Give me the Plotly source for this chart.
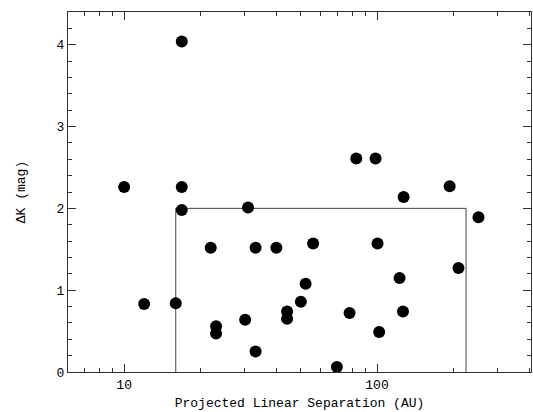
import plotly.graph_objects as go

# Projected linear separation (AU) and delta K (mag)
sep_au = [16.9, 10.0, 16.9, 82.8, 98.7, 127.4, 193.8, 252.0,
          16.9, 30.9, 22.0, 33.1, 40.0, 55.9, 100.5, 210.0,
          122.8, 52.2, 50.0, 12.0, 16.0, 44.1, 44.1, 77.9,
          126.7, 30.1, 23.1, 23.1, 102.0, 33.1, 69.4]
delta_k = [4.04, 2.26, 2.26, 2.61, 2.61, 2.14, 2.27, 1.89,
           1.98, 2.01, 1.52, 1.52, 1.52, 1.57, 1.57, 1.27,
           1.15, 1.08, 0.86, 0.83, 0.84, 0.74, 0.65, 0.72,
           0.74, 0.64, 0.56, 0.47, 0.49, 0.25, 0.06]

# Selection box bounds
box_x = [16.0, 16.0, 225.0, 225.0]
box_y = [0.0, 2.0, 2.0, 0.0]

x_major = [10, 100]
x_minor = [7, 8, 9, 20, 30, 40, 50, 60, 70, 80, 90, 200, 300, 400]

font_main = "Liberation Mono"

fig = go.Figure()
fig.add_trace(go.Scatter(x=box_x, y=box_y, mode="lines",
                         line=dict(color="#444", width=1), hoverinfo="skip",
                         showlegend=False))
fig.add_trace(go.Scatter(x=sep_au, y=delta_k, mode="markers",
                         marker=dict(color="black", size=12, line=dict(width=0)),
                         showlegend=False))

fig.update_layout(
    width=533, height=412,
    margin=dict(l=68, r=2, t=12, b=40),
    paper_bgcolor="white", plot_bgcolor="white",
    font=dict(family=font_main, size=13, color="black"),
    xaxis=dict(type="log", range=[0.778, 2.609],
               tickvals=x_major, ticktext=[str(v) for v in x_major],
               ticks="inside", ticklen=8, tickwidth=1, tickcolor="#333",
               minor=dict(tickvals=x_minor, ticks="inside", ticklen=4,
                          tickcolor="#333", showgrid=False),
               showgrid=False, zeroline=False,
               showline=True, linecolor="#333", linewidth=1, mirror="ticks",
               title=dict(text="Projected Linear Separation (AU)", standoff=6,
                          font=dict(family=font_main, size=13))),
    yaxis=dict(range=[0, 4.4], tickvals=[0, 1, 2, 3, 4],
               ticks="inside", ticklen=8, tickwidth=1, tickcolor="#333",
               minor=dict(dtick=0.2, ticks="inside", ticklen=4,
                          tickcolor="#333", showgrid=False),
               showgrid=False, zeroline=False,
               showline=True, linecolor="#333", linewidth=1, mirror="ticks",
               title=dict(text="ΔK (mag)", standoff=28,
                          font=dict(family=font_main, size=13))),
)

fig.write_html(
    "out.html",
    config={"displayModeBar": False},
    post_script="document.body.style.margin='0';document.body.style.overflow='hidden';",
)
